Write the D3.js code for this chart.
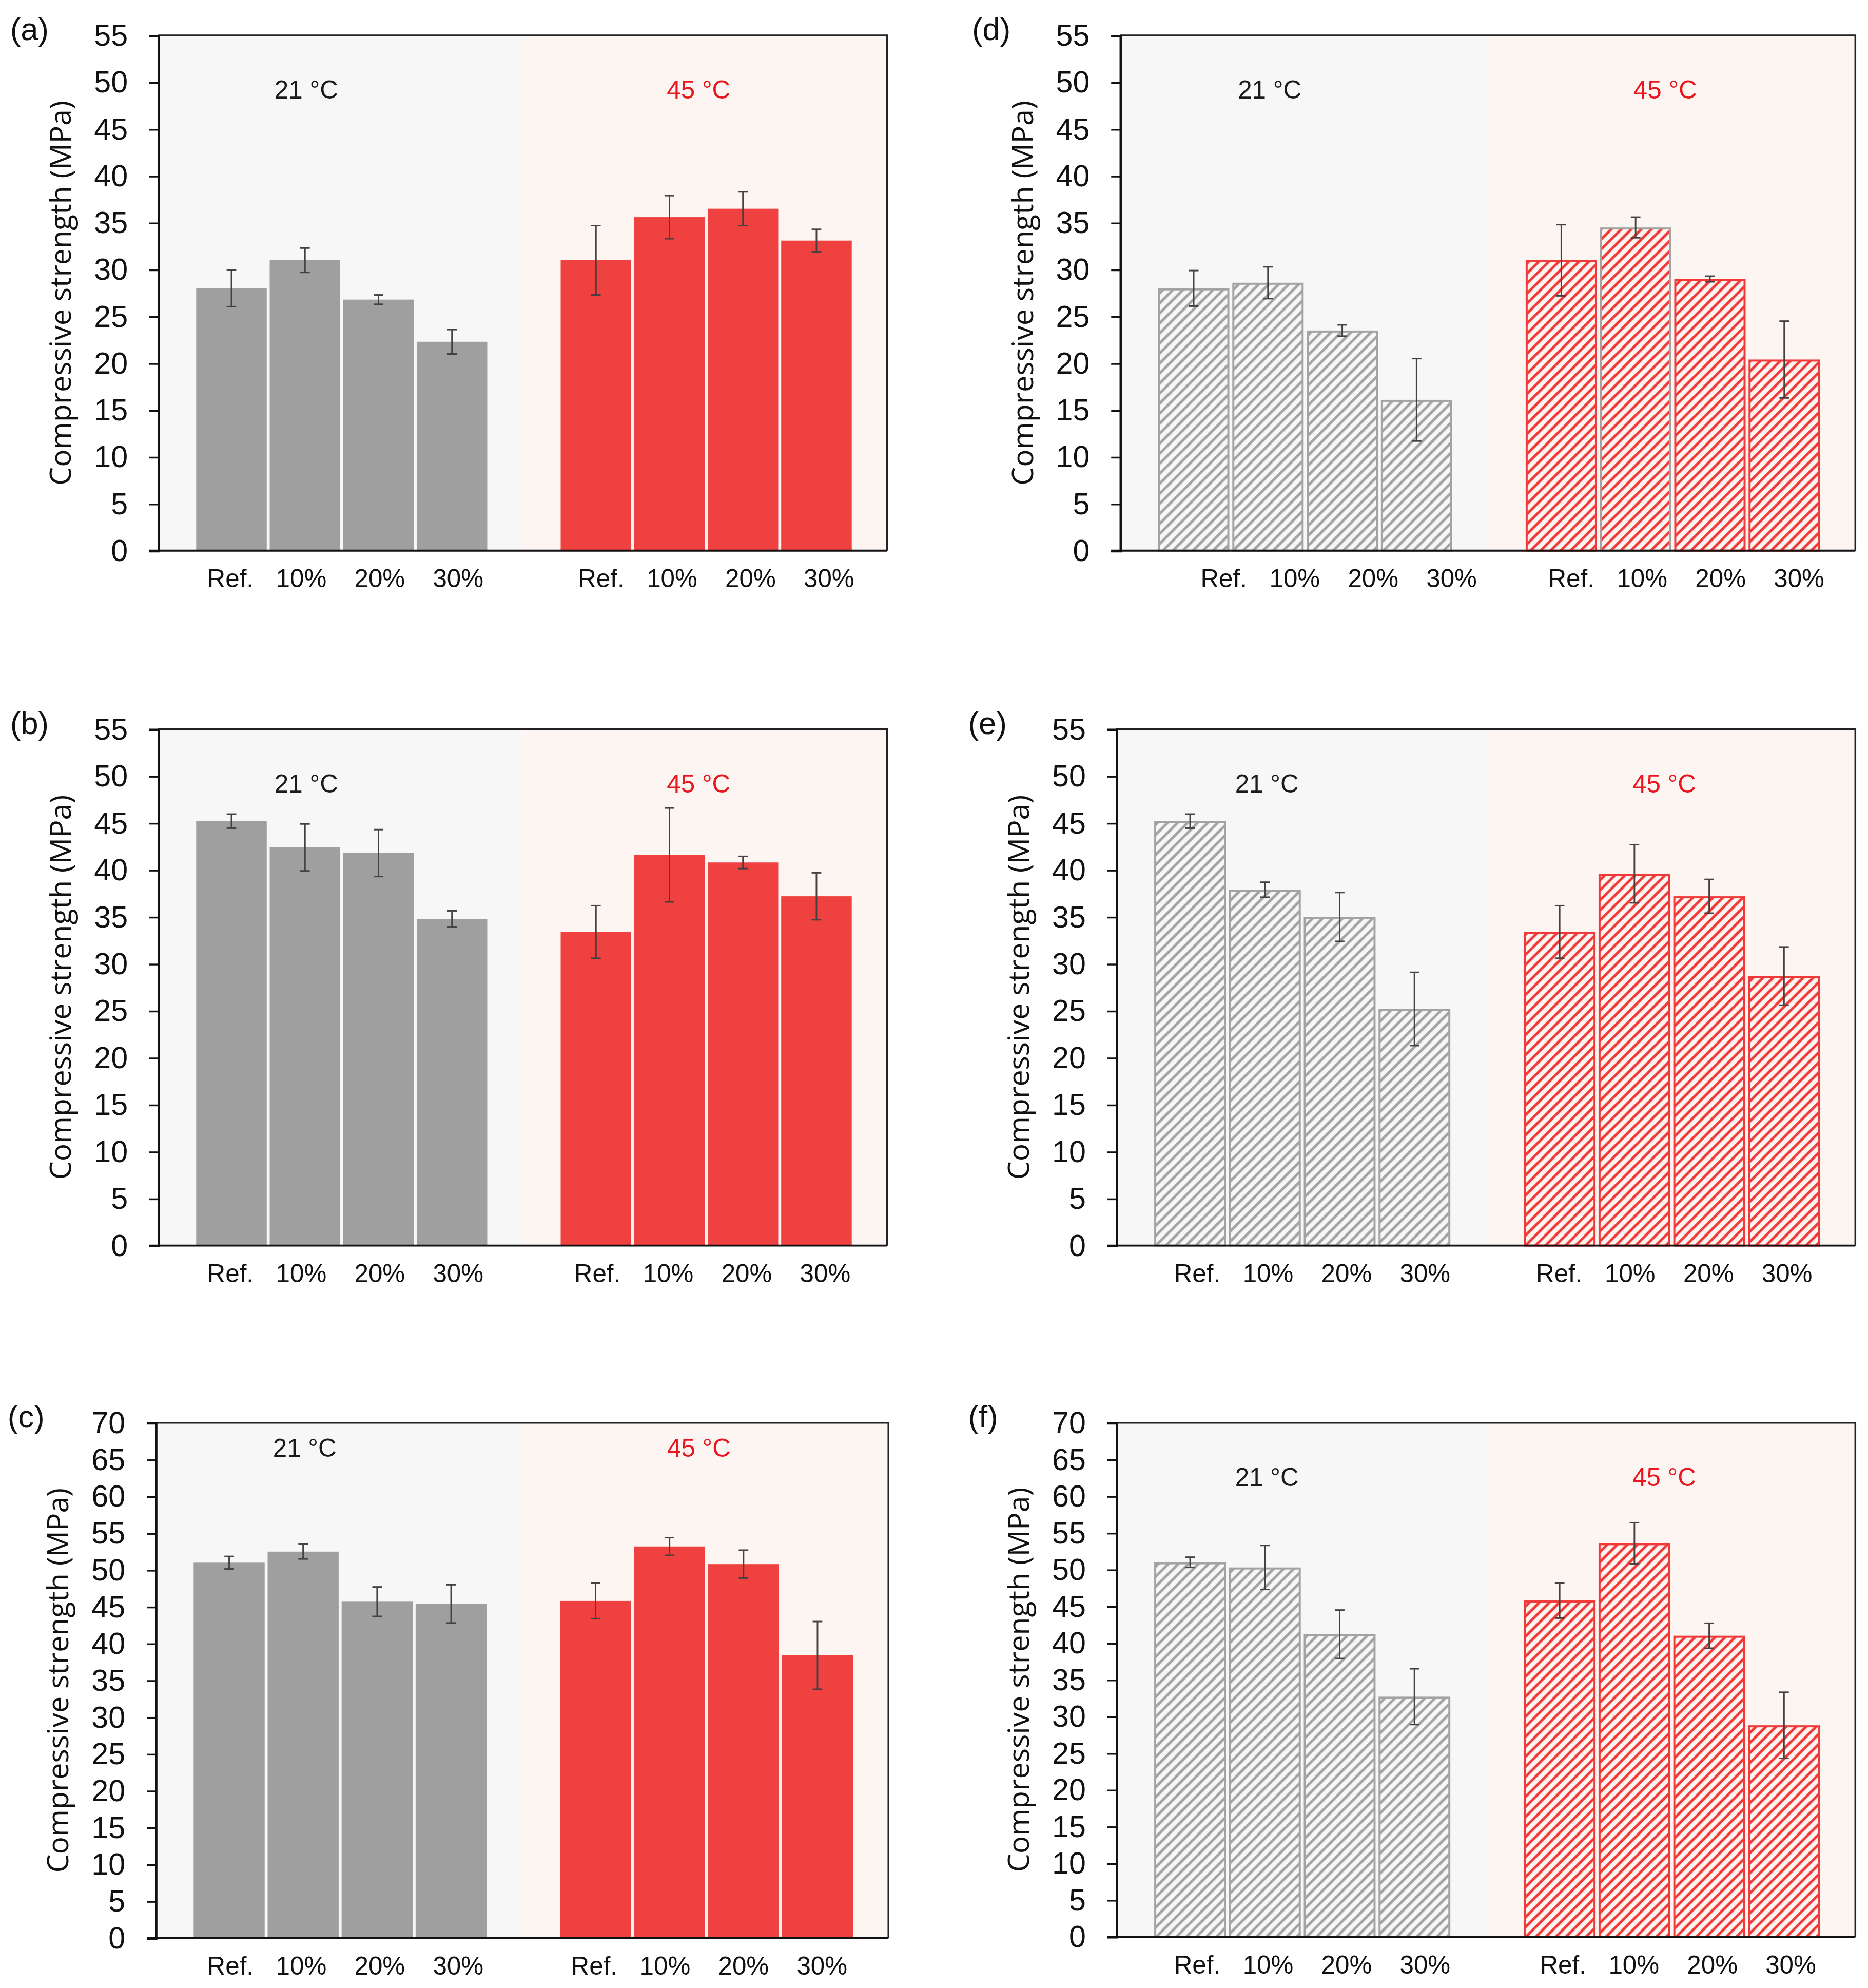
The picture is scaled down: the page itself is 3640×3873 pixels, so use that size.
<!DOCTYPE html>
<html lang="en">
<head>
<meta charset="utf-8">
<title>Compressive strength</title>
<style>
  body {
    margin: 0;
    padding: 0;
    background: #fff;
  }
  svg {
    display: block;
  }
  .tick-label, .cat-label, .panel-label, .temp-label {
    font-family: 'Liberation Sans', Arial, sans-serif;
  }
  .y-title {
    font-family: 'Open Sans', 'Noto Sans', sans-serif;
  }
</style>
</head>
<body>
<svg id="fig" width="3640" height="3873" viewBox="0 0 1476 1570.5"></svg>
<script src="https://cdnjs.cloudflare.com/ajax/libs/d3/7.8.5/d3.min.js"></script>
<script>
  // categories and groups
  var categories = ['Ref.', '10%', '20%', '30%'];
  var groups = ['21 °C', '45 °C'];
  var ticks55 = [0, 5, 10, 15, 20, 25, 30, 35, 40, 45, 50, 55];
  var ticks70 = [0, 5, 10, 15, 20, 25, 30, 35, 40, 45, 50, 55, 60, 65, 70];
  var yTitle = 'Compressive strength (MPa)';

  // mean values and error (+/-)
  var a21 = [28.0, 31.0, 26.8, 22.3], a21e = [1.95, 1.3, 0.5, 1.3];
  var a45 = [31.0, 35.6, 36.5, 33.1], a45e = [3.7, 2.3, 1.8, 1.2];
  var b21 = [45.2, 42.4, 41.8, 34.8], b21e = [0.75, 2.5, 2.5, 0.85];
  var b45 = [33.4, 41.6, 40.8, 37.2], b45e = [2.8, 5.0, 0.65, 2.5];
  var c21 = [51.0, 52.5, 45.7, 45.4], c21e = [0.85, 1.0, 2.0, 2.6];
  var c45 = [45.8, 53.2, 50.8, 38.4], c45e = [2.4, 1.2, 1.9, 4.6];
  var d21 = [28.0, 28.6, 23.5, 16.1], d21e = [1.9, 1.7, 0.6, 4.4];
  var d45 = [31.0, 34.5, 29.0, 20.4], d45e = [3.8, 1.1, 0.3, 4.1];
  var e21 = [45.2, 37.9, 35.0, 25.2], e21e = [0.75, 0.8, 2.6, 3.9];
  var e45 = [33.4, 39.6, 37.2, 28.7], e45e = [2.8, 3.1, 1.8, 3.1];
  var f21 = [51.0, 50.3, 41.2, 32.7], f21e = [0.7, 3.0, 3.3, 3.8];
  var f45 = [45.8, 53.6, 41.0, 28.8], f45e = [2.4, 2.8, 1.7, 4.5];

  // panel layout (viewBox units)
  var panels = [
    {id: '(a)', m: [a21, a45], e: [a21e, a45e], ticks: ticks55, hatch: false, box: [125, 28, 701, 435], lab: [57, 62], tempDy: 43},
    {id: '(b)', m: [b21, b45], e: [b21e, b45e], ticks: ticks55, hatch: false, box: [125, 576, 701, 984], lab: [57, 59], tempDy: 43},
    {id: '(c)', m: [c21, c45], e: [c21e, c45e], ticks: ticks70, hatch: false, box: [123, 1124, 702, 1531], lab: [59, 57], tempDy: 20},
    {id: '(d)', m: [d21, d45], e: [d21e, d45e], ticks: ticks55, hatch: true, box: [885, 28, 1466, 435], lab: [82, 66], tempDy: 43, grayEdge: 1},
    {id: '(e)', m: [e21, e45], e: [e21e, e45e], ticks: ticks55, hatch: true, box: [882, 576, 1466, 984], lab: [64, 58], tempDy: 43},
    {id: '(f)', m: [f21, f45], e: [f21e, f45e], ticks: ticks70, hatch: true, box: [882, 1124, 1466, 1530], lab: [64, 61], tempDy: 43}
  ];
  var labStep = [0, 56, 118, 180];

  var regionBg = ['#f8f7f8', '#fdf5f2'],
    solidFill = ['#a09fa0', '#f04141'],
    hatchCol = ['#a3a3a3', '#f03a3a'],
    tempCol = ['#1a1a1a', '#e8161e'];

  var svg = d3.select('#fig');
  var defs = svg.append('defs');

  hatchCol.forEach(function (c, i) {
    var p = defs.append('pattern')
      .attr('id', 'hatch' + i)
      .attr('patternUnits', 'userSpaceOnUse')
      .attr('width', 5.6)
      .attr('height', 5.6)
      .attr('patternTransform', 'rotate(45)');
    p.append('rect').attr('width', 5.6).attr('height', 5.6).attr('fill', regionBg[i]);
    p.append('line')
      .attr('x1', 1.1).attr('y1', -1).attr('x2', 1.1).attr('y2', 7)
      .attr('stroke', c).attr('stroke-width', 2.1);
  });

  function drawPanel(P) {
    var x0 = P.box[0], y0 = P.box[1], x1 = P.box[2], y1 = P.box[3];
    var g = svg.append('g');
    var yMax = P.ticks[P.ticks.length - 1];

    var y = d3.scaleLinear().domain([0, yMax]).range([y1, y0]);
    var outer = d3.scaleBand().domain(groups).range([x0, x1]);
    var inner = d3.scaleBand().domain(categories)
      .range([30, outer.bandwidth() - 28])
      .paddingInner(0.04);

    // background regions
    g.selectAll('rect.region').data(groups).enter().append('rect')
      .attr('class', 'region')
      .attr('x', function (d) { return outer(d); })
      .attr('y', y0)
      .attr('width', outer.bandwidth())
      .attr('height', y1 - y0)
      .attr('fill', function (d, i) { return regionBg[i]; });

    groups.forEach(function (grp, gi) {
      var rows = categories.map(function (c, k) {
        return {cat: c, k: k, v: P.m[gi][k], err: P.e[gi][k]};
      });
      var gg = g.append('g').attr('transform', 'translate(' + outer(grp) + ',0)');

      var bars = gg.selectAll('rect.bar').data(rows).enter().append('rect')
        .attr('class', 'bar')
        .attr('x', function (d) { return inner(d.cat); })
        .attr('y', function (d) { return y(d.v); })
        .attr('width', inner.bandwidth())
        .attr('height', function (d) { return y(0) - y(d.v); });

      if (P.hatch) {
        bars.attr('x', function (d) { return inner(d.cat) + 0.8; })
          .attr('width', inner.bandwidth() - 1.6)
          .attr('y', function (d) { return y(d.v) + 0.8; })
          .attr('height', function (d) { return y(0) - y(d.v) - 0.8; })
          .attr('fill', 'url(#hatch' + gi + ')')
          .attr('stroke', function (d) {
            return (gi === 1 && P.grayEdge === d.k) ? hatchCol[0] : hatchCol[gi];
          })
          .attr('stroke-width', 1.6);
      } else {
        bars.attr('fill', solidFill[gi]);
      }

      // error bars
      var eb = gg.selectAll('g.err').data(rows).enter().append('g')
        .attr('class', 'err')
        .attr('stroke', '#454142')
        .attr('stroke-width', 1.2);
      eb.append('line')
        .attr('x1', function (d) { return inner(d.cat) + inner.bandwidth() / 2; })
        .attr('x2', function (d) { return inner(d.cat) + inner.bandwidth() / 2; })
        .attr('y1', function (d) { return y(d.v + d.err); })
        .attr('y2', function (d) { return y(d.v - d.err); });
      [1, -1].forEach(function (s) {
        eb.append('line')
          .attr('x1', function (d) { return inner(d.cat) + inner.bandwidth() / 2 - 3.8; })
          .attr('x2', function (d) { return inner(d.cat) + inner.bandwidth() / 2 + 3.8; })
          .attr('y1', function (d) { return y(d.v + s * d.err); })
          .attr('y2', function (d) { return y(d.v + s * d.err); });
      });

      // category labels
      g.selectAll(null).data(categories).enter().append('text')
        .attr('class', 'cat-label')
        .attr('x', function (d, k) { return outer(grp) + P.lab[gi] + labStep[k]; })
        .attr('y', y1 + 22)
        .attr('dy', '0.35em')
        .attr('text-anchor', 'middle')
        .attr('font-size', 20)
        .attr('fill', '#111')
        .text(function (d) { return d; });

      // temperature label
      g.append('text')
        .attr('class', 'temp-label')
        .attr('x', outer(grp) + outer.bandwidth() / 2 + (gi === 0 ? -27 : -5))
        .attr('y', y0 + P.tempDy)
        .attr('dy', '0.35em')
        .attr('text-anchor', 'middle')
        .attr('font-size', 20)
        .attr('fill', tempCol[gi])
        .text(grp);
    });

    // frame: top and right border
    g.append('path')
      .attr('d', 'M' + x0 + ',' + y0 + 'H' + x1 + 'V' + y1)
      .attr('fill', 'none')
      .attr('stroke', '#222')
      .attr('stroke-width', 1.4);

    // bottom axis line
    g.append('line')
      .attr('x1', x0 - 7).attr('x2', x1)
      .attr('y1', y1).attr('y2', y1)
      .attr('stroke', '#111')
      .attr('stroke-width', 1.6);

    // y axis
    var yAxis = d3.axisLeft(y).tickValues(P.ticks).tickSize(7).tickPadding(17)
      .tickFormat(d3.format('d'));
    var ax = g.append('g').attr('transform', 'translate(' + x0 + ',0)').call(yAxis);
    ax.select('.domain').attr('stroke', '#111').attr('stroke-width', 1.8);
    ax.selectAll('.tick line').attr('stroke', '#111').attr('stroke-width', 1.4);
    ax.selectAll('.tick text')
      .attr('class', 'tick-label')
      .attr('font-size', 24)
      .attr('fill', '#111');
    ax.attr('font-family', null).attr('font-size', null);

    // y title
    var t = g.append('text')
      .attr('class', 'y-title')
      .attr('transform', 'translate(' + (x0 - 77) + ',' + ((y0 + y1) / 2) + ') rotate(-90)')
      .attr('text-anchor', 'middle')
      .attr('dy', '0.35em')
      .attr('font-size', 22)
      .attr('fill', '#111')
      .text(yTitle);
    var len = t.node().getComputedTextLength();
    if (len > 0) t.attr('font-size', 22 * 304 / len);

    // panel label
    g.append('text')
      .attr('class', 'panel-label')
      .attr('x', x0 - 117)
      .attr('y', y0 - 5)
      .attr('dy', '0.35em')
      .attr('font-size', 25)
      .attr('fill', '#111')
      .text(P.id);
  }

  panels.forEach(drawPanel);
</script>
</body>
</html>
